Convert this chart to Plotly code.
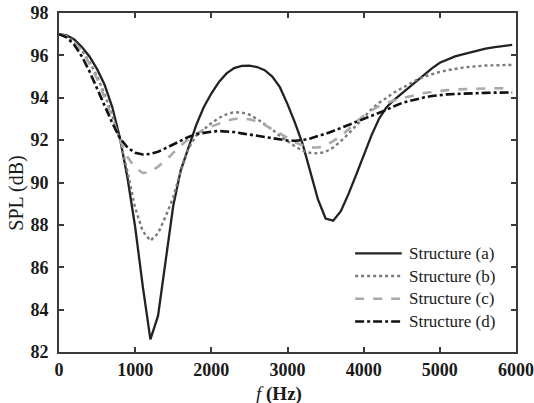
import plotly.graph_objects as go

# Frequency axis (Hz)
freq = [0, 100, 200, 300, 400, 500, 600, 700, 800, 900,
        1000, 1100, 1200, 1300, 1400, 1500, 1600, 1700, 1800, 1900,
        2000, 2100, 2200, 2300, 2400, 2500, 2600, 2700, 2800, 2900,
        3000, 3100, 3200, 3300, 3400, 3500, 3600, 3700, 3800, 3900,
        4000, 4100, 4200, 4300, 4400, 4500, 4600, 4700, 4800, 4900,
        5000, 5100, 5200, 5300, 5400, 5500, 5600, 5700, 5800, 5900, 5950]

# Sound pressure level (dB) for each structure
spl_a = [97.0, 96.95, 96.75, 96.4, 95.95, 95.35, 94.6, 93.55, 92.1, 90.2,
         87.9, 85.1, 82.6, 83.7, 86.3, 88.9, 90.6, 91.7, 92.7, 93.55,
         94.2, 94.75, 95.15, 95.4, 95.5, 95.52, 95.45, 95.3, 95.0, 94.5,
         93.7, 92.8, 91.8, 90.5, 89.2, 88.3, 88.2, 88.65, 89.45, 90.35,
         91.25, 92.2, 93.0, 93.55, 93.9, 94.2, 94.5, 94.8, 95.1, 95.4,
         95.65, 95.8, 95.95, 96.05, 96.15, 96.25, 96.32, 96.38, 96.43, 96.48, 96.5]

spl_b = [97.0, 96.9, 96.65, 96.25, 95.7, 95.0, 94.15, 93.15, 92.0, 90.5,
         88.8, 87.7, 87.25, 87.6, 88.4, 89.3, 90.55, 91.6, 92.2, 92.5,
         92.8, 93.05, 93.22, 93.32, 93.3, 93.2, 93.0, 92.75, 92.5, 92.2,
         91.95, 91.7, 91.5, 91.4, 91.37, 91.45, 91.65, 91.95, 92.3, 92.7,
         93.1, 93.45, 93.75, 94.0, 94.25, 94.45, 94.65, 94.85, 95.0, 95.12,
         95.22, 95.3, 95.37, 95.42, 95.46, 95.5, 95.52, 95.53, 95.54, 95.55, 95.55]

spl_c = [97.0, 96.9, 96.6, 96.2, 95.6, 94.9, 94.0, 93.0, 92.0, 91.2,
         90.7, 90.45, 90.5, 90.75, 91.05, 91.4, 91.75, 92.05, 92.3, 92.5,
         92.65, 92.8, 92.92, 93.0, 93.02, 92.98, 92.88, 92.72, 92.52, 92.3,
         92.1, 91.9, 91.75, 91.65, 91.65, 91.75, 91.95, 92.2, 92.5, 92.85,
         93.15, 93.4, 93.6, 93.75, 93.88, 93.98, 94.07, 94.15, 94.22, 94.28,
         94.33, 94.36, 94.39, 94.41, 94.42, 94.43, 94.44, 94.44, 94.45, 94.45, 94.45]

spl_d = [97.0, 96.85, 96.5, 95.95, 95.25, 94.45, 93.6, 92.8, 92.1, 91.65,
         91.4, 91.32, 91.35, 91.45, 91.62, 91.8, 92.0, 92.15, 92.28, 92.35,
         92.4, 92.43, 92.42, 92.38, 92.32, 92.26, 92.2, 92.13, 92.07, 92.02,
         91.98, 91.97, 92.0, 92.08, 92.18, 92.3, 92.43, 92.57, 92.72, 92.86,
         93.0, 93.15, 93.3, 93.43, 93.6, 93.75, 93.85, 93.95, 94.02, 94.08,
         94.13, 94.16, 94.18, 94.2, 94.21, 94.22, 94.23, 94.24, 94.25, 94.25, 94.25]

names = ["Structure (a)", "Structure (b)", "Structure (c)", "Structure (d)"]
x_ticks = [0, 1000, 2000, 3000, 4000, 5000, 6000]
y_ticks = [82, 84, 86, 88, 90, 92, 94, 96, 98]

serif = "Liberation Serif"
ink = "#1a1a1a"
frame = "#3a3a3a"

styles = [
    dict(color="#222222", width=2.3, dash="solid"),
    dict(color="#7a7a7a", width=2.4, dash="dot"),
    dict(color="#aaaaaa", width=2.6, dash="dash"),
    dict(color="#111111", width=2.6, dash="dashdot"),
]

fig = go.Figure()
for name, ys, st in zip(names, [spl_a, spl_b, spl_c, spl_d], styles):
    fig.add_trace(go.Scatter(x=freq, y=ys, mode="lines", name=name,
                             line=st, showlegend=False))

# Key in the lower right corner: line sample followed by its label
key_x0, key_x1, key_text_x = 0.648, 0.750, 0.762
key_rows = [0.291, 0.224, 0.157, 0.090]
for name, st, ky in zip(names, styles, key_rows):
    fig.add_shape(type="line", xref="paper", yref="paper",
                  x0=key_x0, x1=key_x1, y0=ky, y1=ky,
                  line=dict(color=st["color"], width=st["width"], dash=st["dash"]))
    fig.add_annotation(xref="paper", yref="paper", x=key_text_x, y=ky,
                       text=name, showarrow=False, xanchor="left", yanchor="middle",
                       font=dict(family=serif, size=17, color=ink))

# Axis titles
fig.add_annotation(xref="paper", yref="paper", x=0.481, y=-0.124,
                   text="<i>f</i> <b>(Hz)</b>", showarrow=False,
                   xanchor="center", yanchor="middle",
                   font=dict(family=serif, size=19, color=ink))
fig.add_annotation(xref="paper", yref="paper", x=-0.092, y=0.47,
                   text="SPL (dB)", showarrow=False, textangle=-90,
                   xanchor="center", yanchor="middle",
                   font=dict(family=serif, size=20, color=ink))

axis_common = dict(
    showline=True, linecolor=frame, linewidth=2, mirror="allticks",
    ticks="inside", ticklen=5, tickwidth=2, tickcolor=frame,
    showgrid=False, zeroline=False, automargin=False,
    tickfont=dict(family=serif, size=18, color=ink, weight="bold"),
)

fig.update_layout(
    width=534, height=403,
    margin=dict(l=59, r=18, t=13, b=51),
    paper_bgcolor="white", plot_bgcolor="white",
    showlegend=False,
    xaxis=dict(range=[0, 6000], tickvals=x_ticks, ticklabelstandoff=0, **axis_common),
    yaxis=dict(range=[82, 98], tickvals=y_ticks, ticklabelstandoff=5, **axis_common),
)

fig.write_html("out.html")
